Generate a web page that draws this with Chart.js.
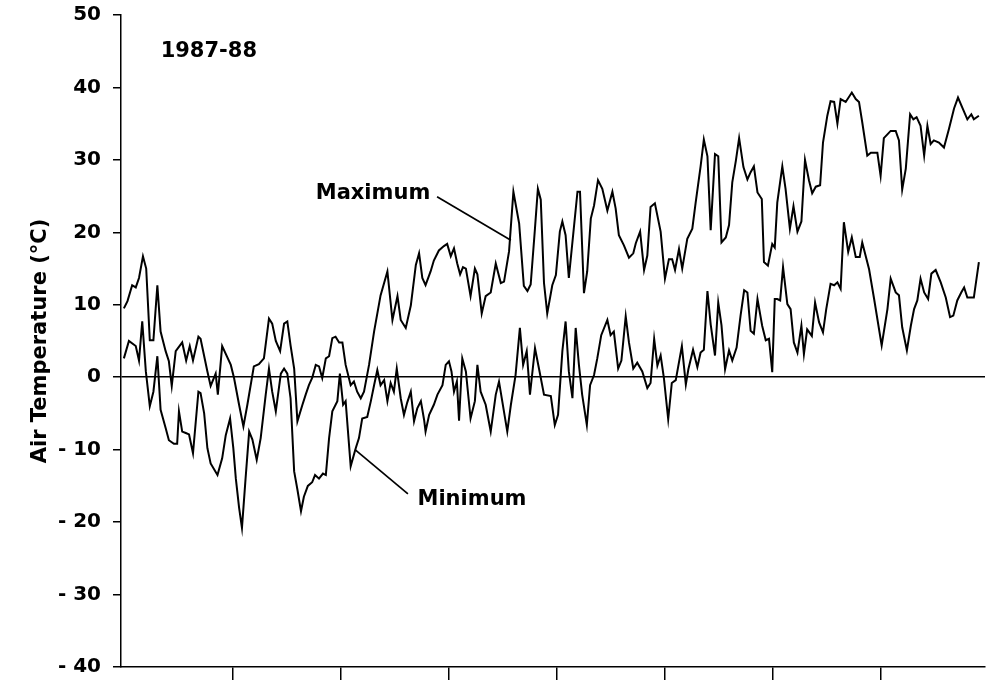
<!DOCTYPE html>
<html>
<head>
<meta charset="utf-8">
<script src="https://cdn.jsdelivr.net/npm/chart.js@4/dist/chart.umd.min.js"></script>
<style>
  html, body { margin: 0; padding: 0; background: #fff; }
  canvas { display: block; }
</style>
</head>
<body>
<canvas id="chart" width="987" height="683"></canvas>
<script>
// day of season (x) and daily air temperature in degC
const maxDay = [
  0.8, 1.8, 3.1, 4.1, 5.0, 6.1, 7.0, 8.0, 9.0, 10.1,
  11.0, 12.4, 13.3, 14.1, 15.2, 17.0, 18.1, 19.1, 20.0, 21.5,
  22.1, 24.0, 24.9, 26.3, 26.9, 28.1, 30.5, 31.4, 32.8, 34.0,
  35.1, 36.9, 38.3, 39.7, 41.1, 42.0, 43.0, 44.2, 45.3, 46.2,
  47.1, 48.1, 49.0, 50.4, 51.3, 52.2, 53.1, 54.1, 55.0, 55.9,
  56.9, 57.8, 58.7, 59.6, 60.6, 61.5, 62.4, 63.8, 64.7, 65.6,
  66.6, 67.5, 68.9, 70.3, 72.1, 74.0, 75.4, 76.8, 77.7, 79.1,
  80.5, 81.9, 82.8, 83.7, 84.6, 86.0, 86.9, 88.3, 89.7, 90.6,
  91.6, 92.5, 93.4, 94.2, 95.0, 95.8, 97.1, 98.3, 99.0, 100.2,
  101.3, 102.7, 104.1, 105.5, 106.4, 107.8, 109.0, 110.6, 111.9, 112.9,
  113.8, 115.0, 115.8, 116.6, 117.5, 118.4, 119.8, 120.8, 121.9, 122.6,
  123.5, 124.4, 126.8, 127.5, 128.6, 129.5, 130.5, 131.4, 132.5, 133.7,
  135.1, 136.5, 137.4, 138.3, 139.7, 141.1, 142.3, 143.0, 144.2, 145.3,
  146.2, 147.1, 148.3, 149.9, 151.1, 152.2, 153.1, 153.9, 155.0, 155.9,
  157.3, 158.7, 159.6, 161.0, 161.9, 162.9, 163.8, 165.0, 165.9, 166.8,
  168.0, 168.9, 169.8, 170.8, 171.7, 172.9, 174.0, 174.9, 175.8, 176.8,
  178.0, 178.6, 179.7, 180.9, 181.6, 182.3, 183.7, 184.6, 185.8, 186.8,
  187.9, 189.0, 190.0, 191.1, 192.0, 193.0, 194.2, 195.0, 196.2, 197.1,
  198.1, 199.0, 199.9, 201.3, 203.0, 204.1, 205.0, 205.9, 207.3, 208.3,
  210.1, 211.0, 211.9, 213.8, 215.2, 216.1, 217.0, 218.0, 219.2, 220.1,
  221.0, 222.1, 223.1, 224.0, 224.9, 225.8, 227.2, 228.6, 230.0, 231.4,
  232.5, 233.7, 235.1, 236.2, 236.9, 238.3
];
const maxTemp = [
  9.5, 10.5, 12.7, 12.4, 13.7, 16.7, 15, 5.1, 5.1, 12.7,
  6.3, 3.6, 2.2, -1.2, 3.6, 4.8, 2.3, 4.3, 2.3, 5.6,
  5.3, 0.8, -1.2, 0.5, -2.4, 4.3, 1.7, -0.1, -3.8, -6.8,
  -3.8, 1.5, 1.8, 2.6, 8.1, 7.4, 5, 3.6, 7.4, 7.7,
  4.4, 1.2, -6.1, -3.8, -2.4, -1.1, -0.1, 1.7, 1.5, -0.1,
  2.6, 2.9, 5.4, 5.6, 4.8, 4.8, 1.7, -1.1, -0.6, -2,
  -2.9, -2, 1.7, 6.3, 11.3, 14.6, 7.9, 11.2, 7.9, 6.8,
  9.9, 15.5, 17.1, 13.7, 12.7, 14.6, 16.1, 17.5, 18.1, 18.4,
  16.7, 17.8, 15.7, 14.2, 15.2, 15, 11.2, 15, 14.2, 8.8,
  11.2, 11.7, 15.7, 13, 13.2, 17.4, 25.6, 21.2, 12.6, 11.9,
  12.8, 20.6, 26, 24.5, 13, 8.8, 12.7, 14.1, 20.1, 21.5,
  19.6, 13.7, 25.6, 25.6, 11.6, 14.6, 21.9, 23.7, 27.2, 26,
  23, 25.6, 23.3, 19.6, 18.2, 16.5, 17.1, 18.5, 20.1, 14.8,
  16.8, 23.5, 24, 20.1, 13.6, 16.3, 16.3, 14.8, 17.7, 15,
  19.1, 20.5, 24, 29.1, 32.8, 30.5, 20.3, 30.8, 30.5, 18.6,
  19.3, 21, 26.9, 29.9, 33, 29, 27.3, 28.3, 29.1, 25.5,
  24.6, 15.9, 15.4, 18.4, 17.9, 24.1, 29.1, 26, 20.5, 23.6,
  20.1, 21.5, 30, 27.2, 25.4, 26.3, 26.5, 32.4, 36.1, 38.1,
  38, 35, 38.4, 38, 39.3, 38.4, 38, 35.2, 30.6, 31,
  31, 27.8, 33, 34, 34, 32.7, 25.9, 28.8, 36.3, 35.6,
  35.9, 34.7, 30.6, 34.7, 32.2, 32.7, 32.4, 31.7, 34.3, 37.1,
  38.6, 37.2, 35.6, 36.3, 35.6, 36.1
];
const minDay = [
  0.8, 2.2, 4.1, 5.0, 5.9, 6.9, 8.0, 9.0, 10.1, 11.0,
  12.4, 13.3, 14.7, 15.6, 16.1, 17.0, 18.0, 18.9, 20.0, 21.5,
  22.1, 23.1, 24.0, 24.9, 26.8, 28.1, 29.1, 30.3, 31.2, 31.9,
  32.8, 33.6, 34.6, 35.6, 36.5, 37.7, 38.8, 40.2, 41.1, 42.0,
  43.0, 44.4, 45.3, 46.2, 47.1, 48.1, 49.0, 50.0, 50.8, 51.9,
  53.1, 53.9, 55.0, 56.1, 56.9, 57.8, 58.7, 60.1, 60.8, 61.7,
  62.4, 63.8, 65.2, 66.1, 67.0, 68.4, 69.4, 70.3, 71.2, 72.1,
  73.1, 74.0, 74.9, 75.8, 76.6, 77.7, 78.6, 79.5, 80.5, 81.4,
  82.3, 83.3, 84.2, 84.6, 85.6, 86.9, 87.9, 89.3, 90.2, 91.1,
  91.8, 92.5, 93.3, 93.9, 94.8, 95.8, 97.1, 98.3, 99.0, 99.9,
  101.3, 102.7, 104.1, 105.0, 105.9, 107.3, 108.3, 109.6, 110.8, 111.7,
  112.7, 113.6, 115.0, 116.1, 117.5, 119.4, 120.5, 121.4, 122.6, 123.5,
  124.4, 125.4, 126.3, 127.2, 128.1, 129.4, 130.3, 131.4, 132.3, 133.4,
  135.1, 136.0, 136.9, 138.1, 139.0, 140.2, 141.1, 142.3, 143.4, 144.8,
  146.2, 147.1, 148.1, 149.0, 149.9, 150.8, 152.0, 153.0, 154.1, 155.8,
  156.9, 157.6, 158.9, 160.1, 161.0, 161.9, 162.9, 163.8, 165.0, 165.9,
  166.8, 167.8, 168.9, 169.8, 171.0, 172.1, 173.1, 174.0, 174.9, 175.8,
  176.8, 178.1, 179.1, 180.0, 180.9, 181.6, 182.3, 183.1, 183.9, 185.1,
  186.0, 186.9, 187.9, 189.0, 189.7, 190.6, 191.9, 192.8, 193.9, 195.0,
  195.9, 197.1, 198.1, 199.0, 199.9, 200.8, 202.0, 203.0, 204.1, 205.2,
  205.9, 207.8, 209.2, 211.3, 212.9, 213.8, 215.2, 216.1, 217.0, 218.3,
  219.4, 220.3, 221.2, 222.1, 223.1, 224.2, 225.1, 226.3, 227.7, 229.1,
  230.3, 231.2, 232.3, 233.4, 234.2, 235.1, 236.9, 238.3
];
const minTemp = [
  2.6, 5, 4.3, 2.3, 7.7, 0.8, -4, -2, 2.9, -4.5,
  -7, -8.7, -9.2, -9.2, -4.7, -7.5, -7.7, -7.9, -10.5, -2,
  -2.2, -5, -9.8, -11.9, -13.5, -11.2, -8, -5.7, -9.8, -14,
  -18, -20.8, -14, -7.5, -8.6, -11.4, -8.4, -2.4, 1.2, -2,
  -4.7, 0.5, 1.2, 0.5, -2.9, -13, -15.5, -18.5, -16.5, -15,
  -14.5, -13.5, -14, -13.3, -13.5, -8.4, -4.7, -3.3, 0.5, -3.8,
  -3.3, -12.3, -9.8, -8.4, -5.7, -5.5, -3.3, -1.1, 1, -1.1,
  -0.4, -3.3, -0.8, -2, 1.2, -2.9, -5.2, -3.5, -2, -6.1,
  -4.3, -3.3, -5.9, -7.5, -5.2, -3.8, -2.4, -1.1, 1.7, 2.2,
  0.8, -2, -0.6, -6, 2.6, 0.8, -5.7, -3.3, 1.7, -2,
  -3.8, -7.5, -2.4, -0.6, -3.3, -7.5, -3.8, 0.3, 6.8, 1.7,
  3.6, -2.4, 4, 1.2, -2.4, -2.6, -6.6, -5.2, 3.6, 7.7,
  0.8, -2.9, 6.8, 1.7, -2.4, -6.6, -1.1, 0.3, 2.6, 5.8,
  7.9, 5.8, 6.3, 1.2, 2.3, 8.4, 4.8, 1.2, 2, 0.8,
  -1.5, -0.8, 5.3, 1.6, 3, -0.1, -5.8, -0.8, -0.4, 4.3,
  -1, 1.1, 3.8, 1.4, 3.4, 3.8, 11.9, 7.3, 3, 10.3,
  7.2, 1.1, 3.7, 2.3, 4.1, 8.5, 12, 11.7, 6.4, 6,
  10.8, 7.1, 5.1, 5.3, 0.7, 10.8, 10.8, 10.6, 15.2, 10.1,
  9.4, 4.8, 3.4, 7.1, 3.2, 6.6, 5.7, 10.3, 7.6, 6.2,
  9.4, 12.9, 12.7, 13.1, 12.2, 21.4, 17.3, 19.3, 16.6, 16.6,
  18.6, 14.9, 10.8, 4.4, 9.4, 13.6, 11.7, 11.3, 6.9, 3.7,
  7.1, 9.4, 10.6, 13.6, 11.7, 10.8, 14.3, 14.8, 13.1, 11,
  8.3, 8.5, 10.6, 11.7, 12.4, 11, 11, 15.9
];
// month boundaries (unlabelled tick marks)
const monthTicks = [31, 61, 91, 121, 151, 181, 211];

// text placed on the plot, positions in data units
const notes = [
  { text: "1987-88", day: 24.4, temp: 44.9 },
  { text: "Maximum", day: 70, temp: 25.4 },
  { text: "Minimum", day: 97.5, temp: -16.9 }
];
const leaders = [
  { from: [87.8, 24.9], to: [108.3, 18.9] },
  { from: [65, -10], to: [79.7, -16.1] }
];

const FONT = "'DejaVu Sans', sans-serif";

const notesPlugin = {
  id: "notes",
  afterDraw(chart) {
    const ctx = chart.ctx;
    const x = chart.scales.x;
    const y = chart.scales.y;
    ctx.save();
    ctx.strokeStyle = "#000";
    ctx.lineWidth = 1.7;
    leaders.forEach((l) => {
      ctx.beginPath();
      ctx.moveTo(x.getPixelForValue(l.from[0]), y.getPixelForValue(l.from[1]));
      ctx.lineTo(x.getPixelForValue(l.to[0]), y.getPixelForValue(l.to[1]));
      ctx.stroke();
    });
    ctx.fillStyle = "#000";
    ctx.font = "bold 21px " + FONT;
    ctx.textAlign = "center";
    ctx.textBaseline = "middle";
    notes.forEach((n) => {
      ctx.fillText(n.text, x.getPixelForValue(n.day), y.getPixelForValue(n.temp));
    });
    ctx.restore();
  }
};

const toPoints = (days, temps) => days.map((d, i) => ({ x: d, y: temps[i] }));

new Chart(document.getElementById("chart"), {
  type: "line",
  data: {
    datasets: [
      {
        label: "Maximum",
        data: toPoints(maxDay, maxTemp),
        borderColor: "#000",
        borderWidth: 2,
        pointRadius: 0,
        tension: 0
      },
      {
        label: "Minimum",
        data: toPoints(minDay, minTemp),
        borderColor: "#000",
        borderWidth: 2,
        pointRadius: 0,
        tension: 0
      }
    ]
  },
  options: {
    responsive: false,
    animation: false,
    devicePixelRatio: 1,
    layout: { padding: { top: 15, right: 2, bottom: 0, left: 0 } },
    plugins: {
      legend: { display: false },
      tooltip: { enabled: false }
    },
    scales: {
      x: {
        type: "linear",
        min: 0,
        max: 240,
        afterBuildTicks: (s) => {
          s.ticks = monthTicks.map((v) => ({ value: v }));
        },
        afterFit: (s) => {
          s.height = 16;
        },
        ticks: { display: false },
        grid: {
          drawOnChartArea: false,
          drawTicks: true,
          tickLength: 13,
          color: "#000",
          lineWidth: 1.5
        },
        border: { color: "#000", width: 1.5 }
      },
      y: {
        min: -40,
        max: 50,
        afterFit: (s) => {
          s.width = 121;
          s.paddingTop = 0;
          s.paddingBottom = 0;
        },
        ticks: {
          stepSize: 10,
          color: "#000",
          padding: 12,
          font: { family: FONT, size: 20, weight: "bold" },
          callback: (v) => (v < 0 ? "- " + Math.abs(v) : String(v))
        },
        grid: {
          drawTicks: true,
          tickLength: 8,
          lineWidth: 1.5,
          color: (c) => (c.tick && c.tick.value === 0 ? "#000" : "rgba(0,0,0,0)"),
          tickColor: "#000"
        },
        border: { color: "#000", width: 1.5 },
        title: {
          display: true,
          text: "Air Temperature (°C)",
          color: "#000",
          font: { family: FONT, size: 21, weight: "bold" },
          padding: { top: 28, bottom: 0 }
        }
      }
    }
  },
  plugins: [notesPlugin]
});
</script>
</body>
</html>
